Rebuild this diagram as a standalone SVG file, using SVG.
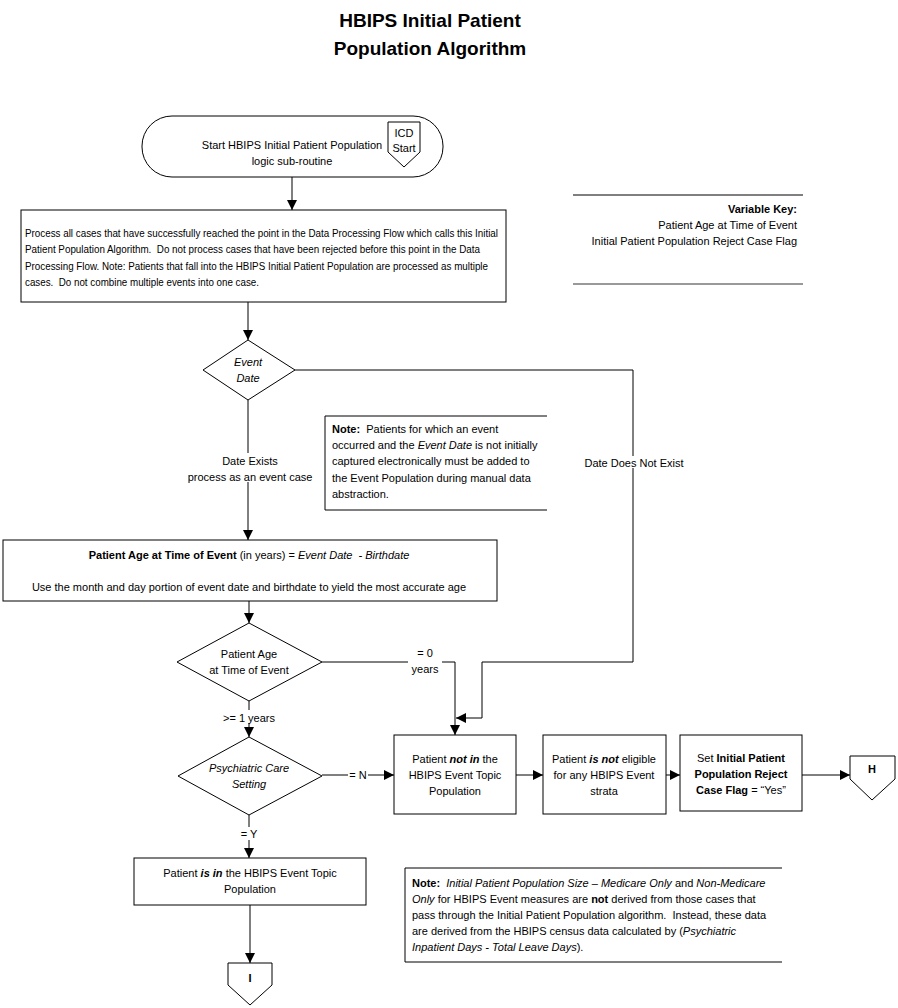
<svg xmlns="http://www.w3.org/2000/svg" width="898" height="1008" viewBox="0 0 898 1008">
<style>
text{font-family:"Liberation Sans",Arial,sans-serif;font-size:11px;fill:#000;white-space:pre}
.t{font-size:19px;font-weight:bold;text-anchor:middle}
.c{text-anchor:middle}
.r{text-anchor:end}
.b{font-weight:bold}
.i{font-style:italic}
.shape{fill:#fff;stroke:#000;stroke-width:1}
.ln{fill:none;stroke:#000;stroke-width:1}
.bg{fill:#fff;stroke:none}
</style>
<defs>
<marker id="ah" viewBox="0 0 10 10" refX="10" refY="5" markerWidth="10" markerHeight="10" markerUnits="userSpaceOnUse" orient="auto">
<path d="M0,0 L10,5 L0,10 z" fill="#000"/>
</marker>
</defs>
<rect width="898" height="1008" fill="#fff"/>
<text class="t" x="430" y="27">HBIPS Initial Patient</text>
<text class="t" x="430" y="55">Population Algorithm</text>

<g id="connectors">
<path class="ln" d="M292,177 V210" marker-end="url(#ah)"/>
<path class="ln" d="M248,302 V340" marker-end="url(#ah)"/>
<path class="ln" d="M248,400 V540" marker-end="url(#ah)"/>
<path class="ln" d="M295,370 H633 V662 H482 V718 H456" marker-end="url(#ah)"/>
<path class="ln" d="M249,601 V623" marker-end="url(#ah)"/>
<path class="ln" d="M322,662 H455 V735" marker-end="url(#ah)"/>
<path class="ln" d="M249,701 V737" marker-end="url(#ah)"/>
<path class="ln" d="M322,775 H394" marker-end="url(#ah)"/>
<path class="ln" d="M516,775 H543" marker-end="url(#ah)"/>
<path class="ln" d="M666,775 H680" marker-end="url(#ah)"/>
<path class="ln" d="M802,775 H850" marker-end="url(#ah)"/>
<path class="ln" d="M249,815 V858" marker-end="url(#ah)"/>
<path class="ln" d="M250,905 V963" marker-end="url(#ah)"/>
<rect class="bg" x="584" y="456" width="100" height="12"/>
<text class="c" x="634" y="467">Date Does Not Exist</text>
<rect class="bg" x="186" y="453" width="128" height="29"/>
<text class="c" x="250" y="465">Date Exists</text>
<text class="c" x="250" y="481">process as an event case</text>
<rect class="bg" x="408" y="645" width="34" height="29"/>
<text class="c" x="425" y="657">= 0</text>
<text class="c" x="425" y="673">years</text>
<rect class="bg" x="219" y="710" width="60" height="13"/>
<text class="c" x="249" y="722">&gt;= 1 years</text>
<rect class="bg" x="348" y="768" width="20" height="13"/>
<text class="c" x="358" y="779">= N</text>
<rect class="bg" x="238" y="827" width="22" height="13"/>
<text class="c" x="249" y="838">= Y</text>
</g>

<g id="start">
<rect class="shape" x="142" y="116" width="301" height="61" rx="30" ry="30"/>
<text class="c" x="292" y="149">Start HBIPS Initial Patient Population</text>
<text class="c" x="292" y="165">logic sub-routine</text>
</g>
<g id="icd-start">
<path class="shape" d="M388,122 H420 V152 L404,167 L388,152 Z"/>
<text class="c" x="404" y="137">ICD</text>
<text class="c" x="404" y="152">Start</text>
</g>

<g id="process">
<rect class="shape" x="21" y="210" width="485" height="92"/>
<text x="25" y="237" textLength="473" lengthAdjust="spacingAndGlyphs">Process all cases that have successfully reached the point in the Data Processing Flow which calls this Initial</text>
<text x="25" y="253" textLength="455" lengthAdjust="spacingAndGlyphs">Patient Population Algorithm.  Do not process cases that have been rejected before this point in the Data</text>
<text x="25" y="270" textLength="463" lengthAdjust="spacingAndGlyphs">Processing Flow. Note: Patients that fall into the HBIPS Initial Patient Population are processed as multiple</text>
<text x="25" y="286" textLength="234" lengthAdjust="spacingAndGlyphs">cases.  Do not combine multiple events into one case.</text>
</g>

<g id="variable-key">
<line x1="573" y1="195" x2="803" y2="195" stroke="#000" stroke-width="1"/>
<line x1="573" y1="284" x2="803" y2="284" stroke="#777" stroke-width="1.5"/>
<text class="r b" x="797" y="213">Variable Key:</text>
<text class="r" x="797" y="229">Patient Age at Time of Event</text>
<text class="r" x="797" y="245">Initial Patient Population Reject Case Flag</text>
</g>

<g id="event-date">
<path class="shape" d="M248,340 L295,370 L248,400 L203,370 Z"/>
<text class="c i" x="248" y="366">Event</text>
<text class="c i" x="248" y="382">Date</text>
</g>

<g id="note1">
<path class="ln" d="M547,416 H325 V510 H547" stroke="#333"/>
<text x="332" y="433"><tspan class="b">Note:</tspan>  Patients for which an event</text>
<text x="332" y="449">occurred and the <tspan class="i">Event Date</tspan> is not initially</text>
<text x="332" y="465">captured electronically must be added to</text>
<text x="332" y="482">the Event Population during manual data</text>
<text x="332" y="498">abstraction.</text>
</g>

<g id="age-calc">
<rect class="shape" x="3" y="540" width="494" height="61"/>
<text class="c" x="249" y="559"><tspan class="b">Patient Age at Time of Event</tspan> (in years) = <tspan class="i">Event Date  - Birthdate</tspan></text>
<text class="c" x="249" y="591">Use the month and day portion of event date and birthdate to yield the most accurate age</text>
</g>

<g id="age-decision">
<path class="shape" d="M249,623 L322,662 L249,701 L177,662 Z"/>
<text class="c" x="249" y="658">Patient Age</text>
<text class="c" x="249" y="674">at Time of Event</text>
</g>

<g id="psych-decision">
<path class="shape" d="M249,737 L322,776 L249,815 L178,776 Z"/>
<text class="c i" x="249" y="772">Psychiatric Care</text>
<text class="c i" x="249" y="788">Setting</text>
</g>

<g id="not-in">
<rect class="shape" x="394" y="735" width="122" height="79"/>
<text class="c" x="455" y="763">Patient <tspan class="b i">not in</tspan> the</text>
<text class="c" x="455" y="779">HBIPS Event Topic</text>
<text class="c" x="455" y="795">Population</text>
</g>

<g id="not-eligible">
<rect class="shape" x="543" y="735" width="123" height="79"/>
<text class="c" x="604" y="763">Patient <tspan class="b i">is not</tspan> eligible</text>
<text class="c" x="604" y="779">for any HBIPS Event</text>
<text class="c" x="604" y="795">strata</text>
</g>

<g id="set-flag">
<rect class="shape" x="680" y="735" width="122" height="76"/>
<text class="c" x="741" y="762">Set <tspan class="b">Initial Patient</tspan></text>
<text class="c b" x="741" y="778">Population Reject</text>
<text class="c" x="741" y="794"><tspan class="b">Case Flag</tspan> = “Yes”</text>
</g>

<g id="connector-h">
<path class="shape" d="M850,756 H895 V779 L872,800 L850,779 Z"/>
<text class="c b" x="872" y="773">H</text>
</g>

<g id="is-in">
<rect class="shape" x="134" y="858" width="232" height="47"/>
<text class="c" x="250" y="877">Patient <tspan class="b i">is in</tspan> the HBIPS Event Topic</text>
<text class="c" x="250" y="893">Population</text>
</g>

<g id="connector-i">
<path class="shape" d="M228,963 H272 V985 L250,1005 L228,985 Z"/>
<text class="c b" x="250" y="982">I</text>
</g>

<g id="note2">
<path class="ln" d="M782,868 H405 V962 H782" stroke="#333"/>
<text x="412" y="887"><tspan class="b">Note:</tspan>  <tspan class="i">Initial Patient Population Size – Medicare Only</tspan> and <tspan class="i">Non-Medicare</tspan></text>
<text x="412" y="903"><tspan class="i">Only</tspan> for HBIPS Event measures are <tspan class="b">not</tspan> derived from those cases that</text>
<text x="412" y="919">pass through the Initial Patient Population algorithm.  Instead, these data</text>
<text x="412" y="935">are derived from the HBIPS census data calculated by (<tspan class="i">Psychiatric</tspan></text>
<text x="412" y="951"><tspan class="i">Inpatient Days - Total Leave Days</tspan>).</text>
</g>
</svg>
